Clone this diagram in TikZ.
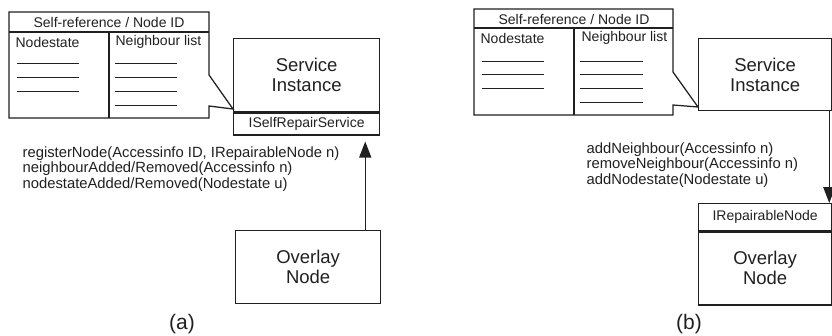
\documentclass[tikz,border=0pt]{standalone}
\usepackage{fontspec}
\setmainfont{Liberation Sans}
\usepackage{tikz}
\usetikzlibrary{arrows.meta,calc,positioning}
\definecolor{inkgray}{HTML}{202020}

\begin{document}
\begin{tikzpicture}[x=1pt,y=-1pt,line width=1.25pt,draw=inkgray,
  smalltext/.style={inner sep=0pt,text=inkgray,font=\fontsize{14}{16}\selectfont},
  calltext/.style={inner sep=0pt,anchor=west,align=left,text=inkgray,font=\fontsize{14.8}{15.5}\selectfont},
  bigbox/.style={draw,inner sep=0pt,align=center,text=inkgray,font=\fontsize{18.5}{20}\selectfont},
  ifacebox/.style={draw,inner sep=0pt,text=inkgray,font=\fontsize{14}{16}\selectfont},
  listline/.style={line width=1pt},
  caption/.style={inner sep=0pt,text=inkgray,font=\fontsize{21}{24}\selectfont},
  uses/.style={-{Triangle[length=16pt,width=12pt]}}]
  \useasboundingbox (0,0) rectangle (832,335);

  % (a) register with the repair service
  \draw[fill=white] (9,12) -- (209,12) -- (209,75) -- (233,109) -- (209,106) -- (209,118) -- (9,118) -- cycle;
  \draw (9,32) -- (209,32);
  \draw (109,32) -- (109,118);
  \node[smalltext] (hdrA) at (109,22) {Self-reference / Node ID};
  \node[smalltext,anchor=west] (stateA) at (15,42) {Nodestate};
  \node[smalltext,anchor=west] (nbrA) at (115,42) {Neighbour list};
  \foreach \y in {63,77,91} \draw[listline] (17,\y) -- (79,\y);
  \foreach \y in {63,77,91,105} \draw[listline] (115,\y) -- (177,\y);

  \node[bigbox,anchor=north west,minimum width=146pt,minimum height=73pt] (srvA) at (233,38) {Service\\Instance};
  \node[ifacebox,below=0pt of srvA,minimum width=146pt,minimum height=22pt] (ifA) {ISelfRepairService};
  \node[bigbox,anchor=north west,minimum width=145pt,minimum height=73pt] (ovA) at (235,230) {Overlay\\Node};
  \draw[uses,shorten >=6pt] ([xshift=-16pt]ovA.north east) -- ([xshift=-16pt]ovA.north east |- ifA.south);
  \node[calltext] (callsA) at (22,169) {registerNode(Accessinfo ID, IRepairableNode n)\\neighbourAdded/Removed(Accessinfo n)\\nodestateAdded/Removed(Nodestate u)};
  \node[caption] (capA) at (182,324) {(a)};

  % (b) repair service calls back the overlay node
  \draw[fill=white] (474,9) -- (673,9) -- (673,72) -- (698,107) -- (673,105) -- (673,115) -- (474,115) -- cycle;
  \draw (474,28) -- (673,28);
  \draw (574,28) -- (574,115);
  \node[smalltext] (hdrB) at (574,19) {Self-reference / Node ID};
  \node[smalltext,anchor=west] (stateB) at (480,38) {Nodestate};
  \node[smalltext,anchor=west] (nbrB) at (581,38) {Neighbour list};
  \foreach \y in {61,74,88} \draw[listline] (482,\y) -- (544,\y);
  \foreach \y in {61,74,88,102} \draw[listline] (580,\y) -- (643,\y);

  \node[bigbox,anchor=north west,minimum width=133pt,minimum height=72pt] (srvB) at (698,38) {Service\\Instance};
  \node[ifacebox,anchor=north west,minimum width=133pt,minimum height=27pt] (ifB) at (698,203) {IRepairableNode};
  \node[bigbox,below=0pt of ifB,minimum width=133pt,minimum height=73pt] (ovB) {Overlay\\Node};
  \draw[uses] ([xshift=-3pt]srvB.south east) -- ([xshift=-3pt]srvB.south east |- ifB.north);
  \node[calltext] (callsB) at (586,165) {addNeighbour(Accessinfo n)\\removeNeighbour(Accessinfo n)\\addNodestate(Nodestate u)};
  \node[caption] (capB) at (689,324) {(b)};
\end{tikzpicture}
\end{document}
